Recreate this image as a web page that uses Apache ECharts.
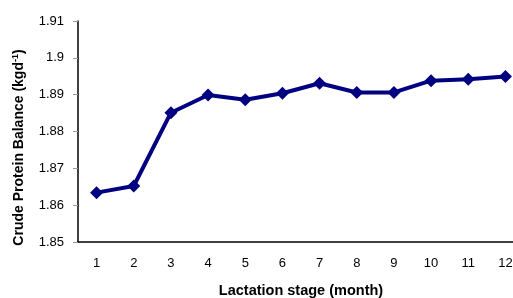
<!DOCTYPE html>
<html>
<head>
<meta charset="utf-8">
<script src="https://cdn.jsdelivr.net/npm/echarts@6/dist/echarts.min.js"></script>
<style>
  html, body { margin: 0; padding: 0; background: #fff; }
  #chart { width: 513px; height: 298px; }
</style>
</head>
<body>
<div id="chart"></div>
<script>
// 数据
var months = ['1', '2', '3', '4', '5', '6', '7', '8', '9', '10', '11', '12']
var balance = [1.8634, 1.8652, 1.8851, 1.8899, 1.8886, 1.8904, 1.8931, 1.8906, 1.8906, 1.8938, 1.8942, 1.8949]

var chart = echarts.init(document.getElementById('chart'))
var font = 'Liberation Sans, Arial, sans-serif'

var option = {
  animation: false,
  grid: { left: 78, top: 21, right: -11, bottom: 56, outerBoundsMode: 'none', containLabel: false },
  xAxis: {
    type: 'category',
    data: months,
    boundaryGap: true,
    name: 'Lactation stage (month)',
    nameLocation: 'middle',
    nameGap: 41,
    nameTextStyle: { fontFamily: font, fontSize: 14.5, fontWeight: 'bold', color: '#000' },
    axisLine: { lineStyle: { color: '#000', width: 1.5 } },
    axisTick: { length: 4, lineStyle: { color: '#999' } },
    axisLabel: { fontFamily: font, fontSize: 13, color: '#000', margin: 15 }
  },
  yAxis: {
    type: 'value',
    min: 1.85,
    max: 1.91,
    interval: 0.01,
    name: '{a|Crude Protein Balance (kgd}{b|-1}{a|)}',
    nameLocation: 'middle',
    nameGap: 51,
    nameTextStyle: {
      padding: [0, 32, 0, 0],
      rich: {
        a: { fontFamily: font, fontSize: 14, fontWeight: 'bold', color: '#000' },
        b: { fontFamily: font, fontSize: 9, fontWeight: 'bold', color: '#000', verticalAlign: 'top', padding: [0, 0, 7, 0] }
      }
    },
    splitLine: { show: false },
    axisLine: { show: true, lineStyle: { color: '#000', width: 1.5 } },
    axisTick: { show: true, length: 5, lineStyle: { color: '#999' } },
    axisLabel: {
      fontFamily: font, fontSize: 13, color: '#000', margin: 14,
      formatter: function (v) { return String(parseFloat(v.toFixed(2))) }
    }
  },
  series: [{
    type: 'line',
    data: balance,
    symbol: 'diamond',
    symbolSize: 13,
    lineStyle: { color: '#000080', width: 4 },
    itemStyle: { color: '#000080' }
  }]
}
chart.setOption(option)
</script>
</body>
</html>
